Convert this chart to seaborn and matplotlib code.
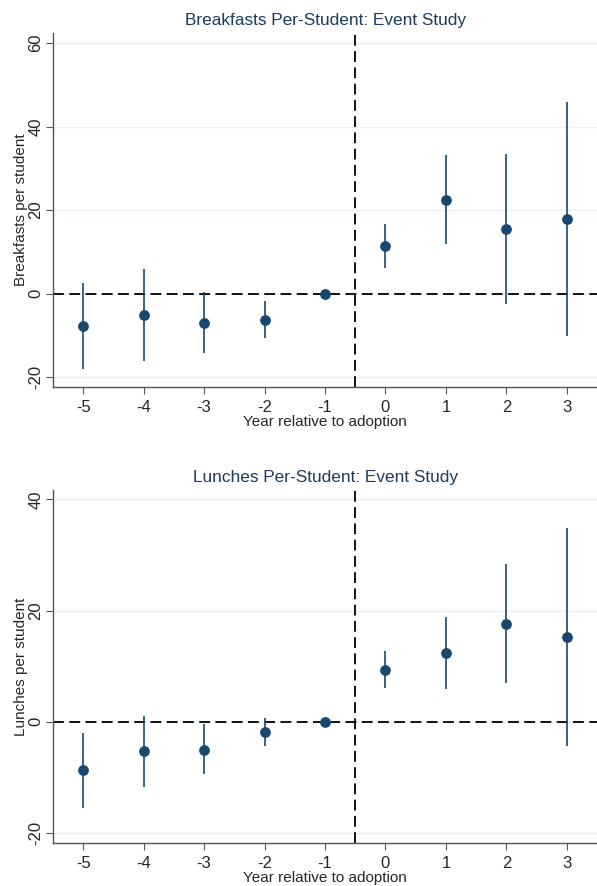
import matplotlib
matplotlib.use("Agg")
import matplotlib.pyplot as plt
import pandas as pd
import seaborn as sns

# event-study estimates
years = [-5, -4, -3, -2, -1, 0, 1, 2, 3]

breakfast_coef = [-7.8, -5.2, -7.0, -6.3, 0.0, 11.4, 22.5, 15.5, 17.8]
breakfast_lo = [-18.0, -16.2, -14.2, -10.6, None, 6.2, 11.8, -2.5, -10.2]
breakfast_hi = [2.4, 5.8, 0.3, -1.9, None, 16.6, 33.1, 33.5, 45.8]

lunch_coef = [-8.7, -5.3, -5.0, -1.9, 0.0, 9.4, 12.3, 17.6, 15.3]
lunch_lo = [-15.5, -11.7, -9.4, -4.4, None, 6.1, 5.9, 6.9, -4.3]
lunch_hi = [-2.0, 1.1, -0.4, 0.7, None, 12.7, 18.9, 28.3, 34.9]

panels = [
    ("Breakfasts Per-Student: Event Study", "Breakfasts per student",
     breakfast_coef, breakfast_lo, breakfast_hi, [-20, 0, 20, 40, 60], (-22.4, 62.4)),
    ("Lunches Per-Student: Event Study", "Lunches per student",
     lunch_coef, lunch_lo, lunch_hi, [-20, 0, 20, 40], (-21.8, 41.7)),
]

sns.set_style("white")
plt.rcParams["font.family"] = ["Liberation Sans", "DejaVu Sans"]
plt.rcParams["axes.unicode_minus"] = False

navy = "#1a476f"
grid_col = "#eaf2f3"
title_col = "#1e3a5c"

fig = plt.figure(figsize=(5.97, 8.86), dpi=100)
boxes = [[0.0888, 0.5632, 0.9112, 0.3995], [0.0888, 0.0485, 0.9112, 0.3985]]

for box, (title, ylabel, coef, lo, hi, yticks, ylim) in zip(boxes, panels):
    ax = fig.add_axes(box)
    df = pd.DataFrame({"year": years, "coef": coef, "lo": lo, "hi": hi})
    ci = df.dropna()

    for yt in yticks:
        ax.axhline(yt, color=grid_col, lw=1.0, zorder=0)
    ax.axhline(0, color="black", lw=1.3, ls=(0, (6, 3)), zorder=1)
    ax.axvline(-0.5, color="black", lw=1.3, ls=(0, (6, 3)), zorder=1)

    ax.vlines(ci["year"], ci["lo"], ci["hi"], color=navy, lw=1.2, zorder=2)
    sns.scatterplot(data=df, x="year", y="coef", ax=ax, color=navy,
                    s=60, edgecolor=navy, linewidth=0, zorder=3)

    ax.set_xlim(-5.5, 3.5)
    ax.set_ylim(*ylim)
    ax.set_xticks(years)
    ax.set_xticklabels([str(y) for y in years])
    ax.set_yticks(yticks)
    ax.set_yticklabels([str(y) for y in yticks], rotation=90, va="center")

    ax.set_title(title, color=title_col, fontsize=12.4, pad=6)
    ax.set_xlabel("Year relative to adoption", fontsize=11, labelpad=0)
    ax.set_ylabel(ylabel, fontsize=11, labelpad=0)
    ax.tick_params(axis="both", labelsize=12, length=5, width=0.8,
                   color="#555555", direction="out", left=True, bottom=True)
    ax.tick_params(axis="x", pad=4)
    ax.tick_params(axis="y", pad=2)

    sns.despine(ax=ax, top=True, right=True)
    for side in ["left", "bottom"]:
        ax.spines[side].set_color("#555555")
        ax.spines[side].set_linewidth(1.0)

fig.savefig("out.png", dpi=100)
